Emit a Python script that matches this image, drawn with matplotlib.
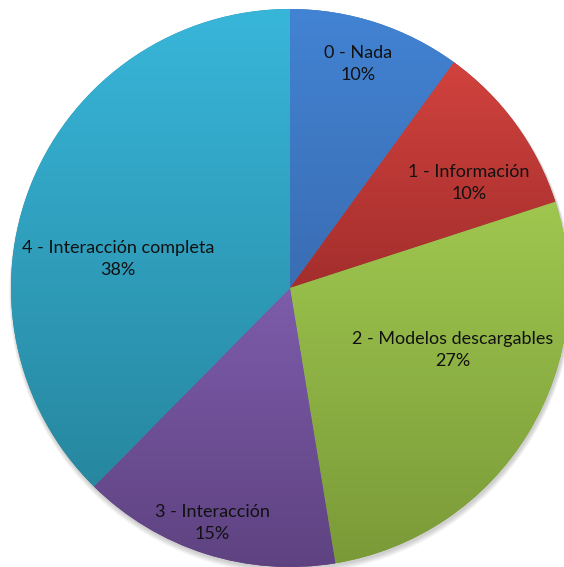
import numpy as np
import matplotlib.pyplot as plt
from matplotlib.colors import LinearSegmentedColormap
from matplotlib.patches import Circle

# ── data ───────────────────────────────────
labels = ["0 - Nada", "1 - Información", "2 - Modelos descargables",
          "3 - Interacción", "4 - Interacción completa"]
values = [10, 10, 27.4, 15, 37.6]   # shown rounded

# gradient colours per slice (top, bottom)
tops = ["#4283d3", "#d1423d", "#9fc74f", "#7d5cab", "#38b6da"]
bottoms = ["#3a6db3", "#a32e2d", "#7a9a38", "#5e4280", "#27879f"]

# label positions in pixels (x, y from top)
label_pos = [(358, 64), (469, 183), (453, 350), (212, 523), (118, 259)]

# ── figure ─────────────────────────────────
W, H = 564, 567
fig = plt.figure(figsize=(W / 100, H / 100), dpi=100)
ax = fig.add_axes([0, 0, 1, 1])

cx, cy, r = 290, H - 288, 279

# soft shadow under the pie
for k in range(5):
    ax.add_patch(Circle((cx + 1, cy - 2 - k * 0.6), r + 0.5 + k * 0.6,
                        color="black", alpha=0.04, lw=0, zorder=0))

wedges, _ = ax.pie(values, center=(cx, cy), radius=r, startangle=90,
                   counterclock=False, frame=False,
                   wedgeprops=dict(linewidth=0))

for w, top, bot in zip(wedges, tops, bottoms):
    w.set_facecolor(bot)
    v = w.get_path().vertices
    cmap = LinearSegmentedColormap.from_list("g", [bot, top])
    grad = np.linspace(0, 1, 256).reshape(-1, 1)
    im = ax.imshow(grad, cmap=cmap, aspect="auto", origin="lower",
                   extent=(v[:, 0].min(), v[:, 0].max(),
                           v[:, 1].min(), v[:, 1].max()),
                   interpolation="bilinear", zorder=2)
    im.set_clip_path(w)

for lab, val, (x, y) in zip(labels, values, label_pos):
    ax.text(x, H - y, f"{lab}\n{val:.0f}%", ha="center", va="center",
            fontsize=13, family="Lato", linespacing=1.5,
            color="#111111", zorder=5)

ax.set_xlim(0, W)
ax.set_ylim(0, H)
ax.set_aspect("equal")
ax.axis("off")
fig.savefig("out.png", dpi=100)
